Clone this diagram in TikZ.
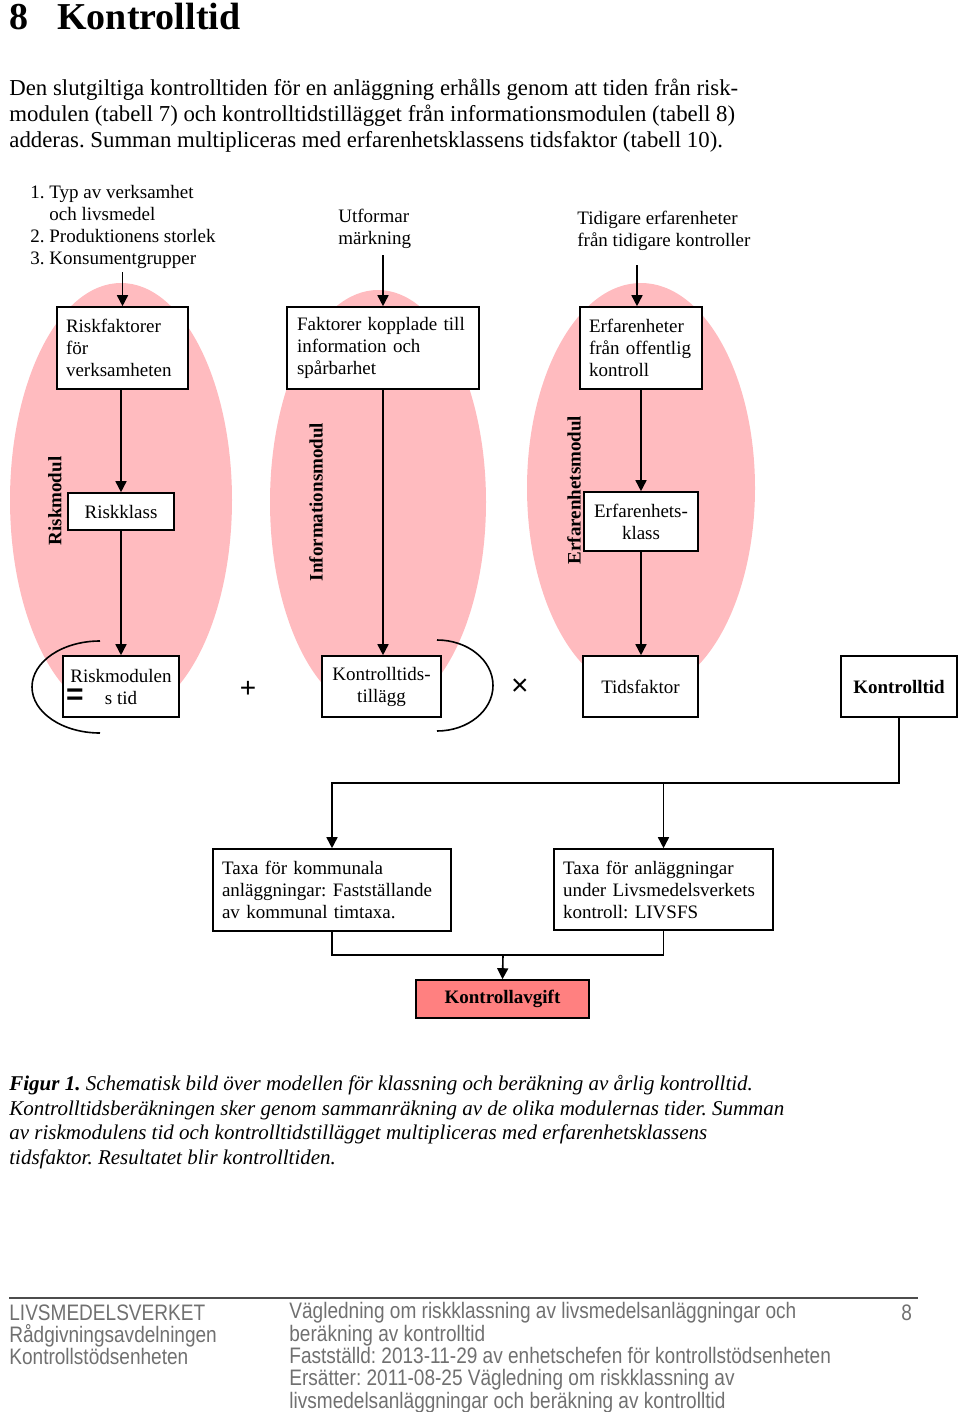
\documentclass[tikz,border=0pt]{standalone}
\usepackage{fontspec}
\setmainfont{Liberation Serif}
\setsansfont{Liberation Sans}
\newfontfamily\fussschrift[FakeStretch=0.85]{Liberation Sans}
\usetikzlibrary{arrows.meta}
\definecolor{rosa}{RGB}{255,187,191}
\definecolor{lachs}{RGB}{255,128,128}
\definecolor{fussgrau}{RGB}{112,112,112}
\newcommand\diafont{\fontsize{9.5}{11}\selectfont}
\newcommand\fliesstext{\fontsize{11.4}{13}\selectfont}
\frenchspacing

\begin{document}
\begin{tikzpicture}[x=0.5pt, y=-0.5pt,
    kasten/.style={draw, line width=0.8pt, fill=white, inner sep=0pt, font=\diafont},
    pfeil/.style={line width=0.8pt, -{Triangle[length=5.5pt,width=5.5pt]}},
    linie/.style={line width=0.8pt},
    modul/.style={rotate=90, inner sep=0pt, font=\diafont\bfseries},
    frei/.style={inner sep=0pt, align=left, anchor=north west}]
\useasboundingbox (0,0) rectangle (960,1412);

% Ueberschrift und Absatz:
\node[anchor=base west, inner sep=0pt, font=\fontsize{19}{20}\selectfont\bfseries] (titel) at (9,30) {8\hspace{14.5pt}Kontrolltid};
\node[frei, font=\fliesstext] (absatz) at (9,79) {Den slutgiltiga kontrolltiden för en anläggning erhålls genom att tiden från risk-\\modulen (tabell 7) och kontrolltidstillägget från informationsmodulen (tabell 8)\\adderas. Summan multipliceras med erfarenhetsklassens tidsfaktor (tabell 10).};

% Module (rosa Ellipsen):
\fill[rosa] (121,500) ellipse [x radius=55.5pt, y radius=108.5pt]; % Risk
\fill[rosa] (378,502) ellipse [x radius=54pt, y radius=106pt]; % Information
\fill[rosa] (641,488) ellipse [x radius=57pt, y radius=102.5pt]; % Erfarenhet
\node[modul] (riskmodul) at (55,501) {Riskmodul};
\node[modul] (infomodul) at (316,502) {Informationsmodul};
\node[modul] (erfmodul) at (574,490) {Erfarenhetsmodul};

% Eingaben oben:
\node[frei, font=\diafont] (ein1) at (30,185) {1. Typ av verksamhet\\\phantom{1.} och livsmedel\\2. Produktionens storlek\\3. Konsumentgrupper};
\node[frei, font=\diafont] (ein2) at (338,209) {Utformar\\märkning};
\node[frei, font=\diafont] (ein3) at (577,211) {Tidigare erfarenheter\\från tidigare kontroller};

% obere Kaesten:
\node[kasten, minimum width=65.5pt, minimum height=41pt, text width=56.5pt, align=left] (rf) at (122.5,348) {Riskfaktorer\\för\\verksamheten};
\node[kasten, minimum width=96pt, minimum height=41pt, text width=86pt, align=left] (fi) at (383,348) {Faktorer kopplade till\\information och\\spårbarhet};
\node[kasten, minimum width=61pt, minimum height=41pt, text width=52pt, align=left] (ef) at (641,348) {Erfarenheter\\från offentlig\\kontroll};

% mittlere Kaesten:
\node[kasten, minimum width=53pt, minimum height=18.5pt, align=center] (rk) at (121,511.5) {Riskklass};
\node[kasten, minimum width=57pt, minimum height=29.5pt, align=center] (ek) at (641,521.5) {Erfarenhets-\\klass};

% untere Reihe:
\node[kasten, minimum width=58pt, minimum height=30.5pt, align=center] (rm) at (121,686.5) {Riskmodulen\\s tid};
\node[kasten, minimum width=59.5pt, minimum height=30.5pt, align=center] (kt) at (381.5,686.5) {Kontrolltids-\\tillägg};
\node[kasten, minimum width=57.5pt, minimum height=30.5pt, align=center] (tf) at (640.5,686.5) {Tidsfaktor};
\node[kasten, minimum width=58pt, minimum height=30.5pt, align=center, font=\diafont\bfseries] (ktid) at (899,686.5) {Kontrolltid};
\node[inner sep=0pt, font=\fontsize{15}{15}\sffamily\bfseries] (gleich) at (75,697) {=};
\node[inner sep=0pt, font=\fontsize{14}{14}\sffamily] (plus) at (248,689) {+};
\node[inner sep=0pt, font=\fontsize{15}{15}\sffamily] (mal) at (520,687) {×};

% Klammern:
\coordinate (klammer1) at (100,641);
\coordinate (klammer2) at (437,640);
\draw[linie] (klammer1) arc[start angle=90, end angle=270, x radius=34pt, y radius=23pt];
\draw[linie] (klammer2) arc[start angle=90, end angle=-90, x radius=28pt, y radius=22.75pt];

% Taxa und Avgift:
\node[kasten, minimum width=119pt, minimum height=41pt, text width=110pt, align=left] (tk) at (332,890) {Taxa för kommunala\\anläggningar: Fastställande\\av kommunal timtaxa.};
\node[kasten, minimum width=109.5pt, minimum height=40.5pt, text width=100.5pt, align=left] (tl) at (663.5,889.5) {Taxa för anläggningar\\under Livsmedelsverkets\\kontroll: LIVSFS};
\node[kasten, fill=lachs, minimum width=86.5pt, minimum height=19pt, font=\diafont\bfseries] (ka) at (502.5,999) {Kontrollavgift};

% Pfeile:
\draw[pfeil] (rf.north |- 0,272) -- (rf.north);
\draw[pfeil] (fi.north |- 0,255) -- (fi.north);
\draw[pfeil] ([xshift=-2pt]ef.north |- 0,265) -- ([xshift=-2pt]ef.north);
\draw[pfeil] (rk.north |- rf.south) -- (rk.north);
\draw[pfeil] (rk.south) -- (rm.north);
\draw[pfeil] (fi.south) -- (kt.north -| fi.south);
\draw[pfeil] (ef.south) -- (ek.north);
\draw[pfeil] (ek.south) -- (tf.north -| ek.south);
\coordinate (knick) at (899,783);
\coordinate (samla) at (503,955);
\draw[pfeil] (ktid.south) -- (knick) -| (tk.north);
\draw[pfeil] (tl.north |- knick) -- (tl.north);
\draw[linie] (tk.south) |- (samla) -| (tl.south);
\draw[pfeil] (samla) -- (ka.north);

% Bildtext:
\node[frei, font=\fontsize{10.5}{12.3}\selectfont\itshape] (bildtext) at (9,1075) {\textbf{Figur 1.} Schematisk bild över modellen för klassning och beräkning av årlig kontrolltid.\\Kontrolltidsberäkningen sker genom sammanräkning av de olika modulernas tider. Summan\\av riskmodulens tid och kontrolltidstillägget multipliceras med erfarenhetsklassens\\tidsfaktor. Resultatet blir kontrolltiden.};

% Fusszeile:
\draw[black!70, line width=0.6pt] (9,1298) -- (918,1298);
\node[frei, text=fussgrau, font=\fontsize{11.2}{11.2}\fussschrift] (fuss1) at (9,1304) {LIVSMEDELSVERKET\\Rådgivningsavdelningen\\Kontrollstödsenheten};
\node[frei, text=fussgrau, font=\fontsize{11.2}{11.2}\fussschrift] (fuss2) at (289,1302) {Vägledning om riskklassning av livsmedelsanläggningar och\\beräkning av kontrolltid\\Fastställd: 2013-11-29 av enhetschefen för kontrollstödsenheten\\Ersätter: 2011-08-25 Vägledning om riskklassning av\\livsmedelsanläggningar och beräkning av kontrolltid};
\node[frei, text=fussgrau, font=\fontsize{11.2}{11.2}\fussschrift] (seite) at (901,1304) {8};
\end{tikzpicture}
\end{document}
